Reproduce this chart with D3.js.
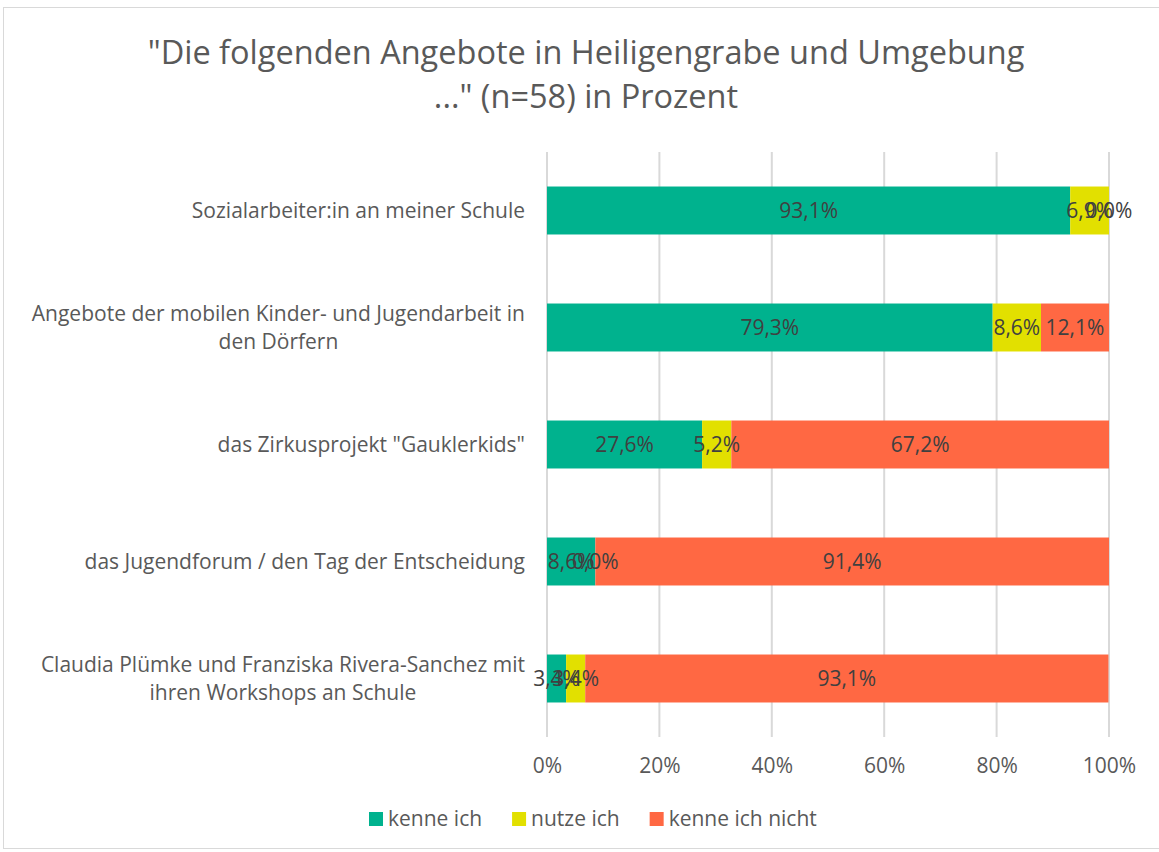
<!DOCTYPE html>
<html>
<head>
<meta charset="utf-8">
<script src="https://cdn.jsdelivr.net/npm/d3@7"></script>
<style>
  body { margin: 0; background: #fff; }
  text { font-family: "Open Sans", sans-serif; }
</style>
</head>
<body>
<script>
// chart data
var categories = [
    ['Sozialarbeiter:in an meiner Schule'],
    ['Angebote der mobilen Kinder- und Jugendarbeit in', 'den Dörfern'],
    ['das Zirkusprojekt "Gauklerkids"'],
    ['das Jugendforum / den Tag der Entscheidung'],
    ['Claudia Plümke und Franziska Rivera-Sanchez mit', 'ihren Workshops an Schule']
];
var seriesNames = ['kenne ich', 'nutze ich', 'kenne ich nicht'];
var kenneIch = [93.1, 79.3, 27.6, 8.6, 3.4];
var nutzeIch = [6.9, 8.6, 5.2, 0.0, 3.4];
var kenneNicht = [0.0, 12.1, 67.2, 91.4, 93.1];
var xTicks = [0, 20, 40, 60, 80, 100];
var titleLines = ['"Die folgenden Angebote in Heiligengrabe und Umgebung', '..." (n=58) in Prozent'];

var colors = ['#00b28e', '#e2e000', '#ff6843'];

var width = 1159, height = 852;
var svg = d3.select('body').append('svg').attr('width', width).attr('height', height);

// outer chart border
svg.append('rect')
    .attr('x', 3.5).attr('y', 7.5)
    .attr('width', width).attr('height', 841)
    .attr('fill', '#fff').attr('stroke', '#d9d9d9');

// title
svg.append('g').selectAll('text').data(titleLines).enter().append('text')
    .attr('x', 586)
    .attr('y', function(d, i) {return 64 + i * 44;})
    .attr('text-anchor', 'middle')
    .attr('fill', '#595959')
    .style('font-size', '32.5px')
    .text(function(d) {return d;});

var x = d3.scaleLinear().domain([0, 100]).range([547, 1109]);
var y = d3.scaleBand().domain(d3.range(categories.length)).range([152, 737]).paddingInner(0.59).paddingOuter(0.295);

// gridlines
svg.append('g').selectAll('line').data(xTicks).enter().append('line')
    .attr('x1', function(d) {return x(d);})
    .attr('x2', function(d) {return x(d);})
    .attr('y1', 152).attr('y2', 737)
    .attr('stroke', '#d9d9d9').attr('stroke-width', 2);

// x axis labels
var xAxis = svg.append('g')
    .attr('transform', 'translate(0,737)')
    .call(d3.axisBottom(x).tickValues(xTicks).tickSize(0).tickPadding(21).tickFormat(function(d) {return d + '%';}));
xAxis.select('.domain').remove();
xAxis.selectAll('text').attr('fill', '#595959').style('font-size', '21px').style('font-family', '"Open Sans", sans-serif');

// stacked series
var rows = categories.map(function(c, i) {
    return {i: i, 'kenne ich': kenneIch[i], 'nutze ich': nutzeIch[i], 'kenne ich nicht': kenneNicht[i]};
});
var stack = d3.stack().keys(seriesNames)(rows);

var layer = svg.append('g').selectAll('g').data(stack).enter().append('g')
    .attr('fill', function(d, i) {return colors[i];});

layer.selectAll('rect').data(function(d) {return d;}).enter().append('rect')
    .attr('x', function(d) {return x(d[0]);})
    .attr('width', function(d) {return Math.max(0, x(Math.min(d[1], 100)) - x(d[0]));})
    .attr('y', function(d) {return y(d.data.i);})
    .attr('height', y.bandwidth());

// value labels on top of all bars, centred in each segment
// (they overlap on thin segments, as in the original)
var fmt = function(v) {return v.toFixed(1).replace('.', ',') + '%';};
var labels = [];
stack.forEach(function(s) {
    s.forEach(function(p) {labels.push({p: p, key: s.key});});
});
svg.append('g').selectAll('text').data(labels).enter().append('text')
    .attr('x', function(d) {return x((d.p[0] + d.p[1]) / 2);})
    .attr('y', function(d) {return y(d.p.data.i) + y.bandwidth() / 2 + 7;})
    .attr('text-anchor', 'middle')
    .attr('fill', '#404040')
    .style('font-size', '21px')
    .text(function(d) {return fmt(d.p.data[d.key]);});

// category labels, lines centred inside a right aligned block
var catG = svg.append('g');
categories.forEach(function(lines, i) {
    var g = catG.append('g');
    var t = g.selectAll('text').data(lines).enter().append('text')
        .attr('fill', '#595959')
        .attr('text-anchor', 'middle')
        .style('font-size', '21px')
        .attr('y', function(d, j) {return y(i) + y.bandwidth() / 2 + 7 + (j - (lines.length - 1) / 2) * 28;})
        .text(function(d) {return d;});
    var maxW = 0;
    t.each(function() {maxW = Math.max(maxW, this.getComputedTextLength());});
    t.attr('x', 525 - maxW / 2);
});

// legend
var legend = svg.append('g').attr('transform', 'translate(369,819)');
var lx = 0;
seriesNames.forEach(function(name, i) {
    var item = legend.append('g').attr('transform', 'translate(' + lx + ',0)');
    item.append('rect').attr('x', 0).attr('y', -7).attr('width', 14).attr('height', 14).attr('fill', colors[i]);
    var tx = item.append('text').attr('x', 19).attr('y', 7).attr('fill', '#595959').style('font-size', '21px').text(name);
    lx += 19 + tx.node().getComputedTextLength() + 30;
});
</script>
</body>
</html>
